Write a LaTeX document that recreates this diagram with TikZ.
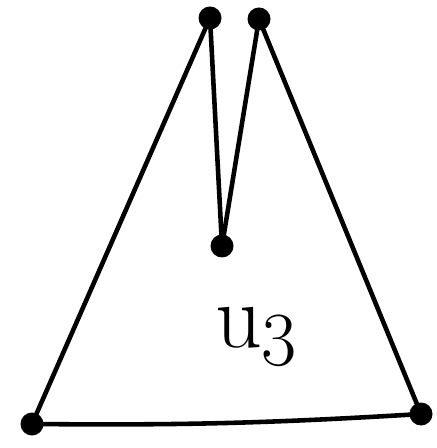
\documentclass[tikz,border=0pt]{standalone}
\usepackage{tikz}
\usetikzlibrary{calc}
\tikzset{
  vdot/.style={circle, fill=black, inner sep=0pt, minimum size=0.46cm},
  edge/.style={line width=2.6pt, line cap=round, line join=round, color=black},
  lbl/.style={font=\Huge, scale=2.1, text=black, inner sep=0pt}}

\begin{document}
\begin{tikzpicture}[x=0.02cm, y=-0.02cm]
    \useasboundingbox (0,0) rectangle (436,448);
    \node[vdot] (tl) at (210,18) {};
    \node[vdot] (tr) at (259,19) {};
    \node[vdot] (mid) at (222,246) {};
    \node[vdot] (bl) at (32,424) {};
    \node[vdot] (br) at (421,414) {};
    \draw[edge] (tl.center) -- (bl.center);
    \draw[edge] (tr.center) -- (br.center);
    \draw[edge] (bl.center) to[bend right=2] (br.center);
    \draw[edge] (tl.center) -- (mid.center);
    \draw[edge] (tr.center) -- (mid.center);
    \node[lbl] (u) at (257,337) {$\mathrm{u}_3$};
  \end{tikzpicture}
\end{document}
